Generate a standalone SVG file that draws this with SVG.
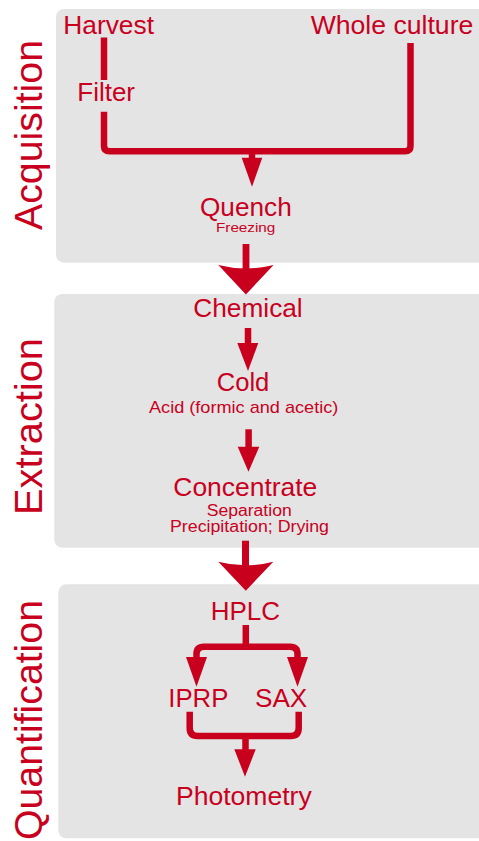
<svg xmlns="http://www.w3.org/2000/svg" width="479" height="841" viewBox="0 0 479 841">
<style>
.panel{fill:#e4e4e4}
.t{font-family:"Liberation Sans",Arial,Helvetica,sans-serif;fill:#c8001e}
.lbl{font-size:25px}
.sub{font-size:17px}
.sub2{font-size:16px}
.tiny{font-size:13.5px}
.side{font-size:39.5px}
.ln{fill:none;stroke:#c8001e;stroke-width:6.5}
.hd{fill:#c8001e}
</style>
<rect width="479" height="841" fill="#ffffff"/>
<g id="panel-acquisition">
<rect class="panel" x="56" y="9" width="440" height="253.7" rx="8"/>
<text class="t side" transform="translate(42,230) rotate(-90)" textLength="190" lengthAdjust="spacingAndGlyphs">Acquisition</text>
</g>
<g id="panel-extraction">
<rect class="panel" x="54.3" y="294" width="440" height="253.7" rx="8"/>
<text class="t side" transform="translate(42,515) rotate(-90)" textLength="177" lengthAdjust="spacingAndGlyphs">Extraction</text>
</g>
<g id="panel-quantification">
<rect class="panel" x="58.3" y="584.3" width="440" height="254" rx="8"/>
<text class="t side" transform="translate(42,840) rotate(-90)" textLength="240" lengthAdjust="spacingAndGlyphs">Quantification</text>
</g>
<g id="connectors">
<path class="ln" d="M104,37.5 V80"/>
<path class="ln" d="M104,111.7 V146 Q104,151.3 109.5,151.3 H405 Q410.5,151.3 410.5,146 V43"/>
<path class="ln" d="M252,151.3 V162" stroke-width="6"/>
<polygon class="hd" points="241.7,157.7 262.3,157.7 252,186.7"/>
<rect class="hd" x="242.6" y="244" width="6.8" height="25"/>
<path class="hd" d="M218.3,265 Q246,272 273.6,265 L245.9,294.5 Z"/>
<path class="ln" d="M248,328 V346" stroke-width="6"/>
<polygon class="hd" points="237.3,343 258.3,343 248,371"/>
<path class="ln" d="M248.6,429.3 V450" stroke-width="6"/>
<polygon class="hd" points="237.7,446.7 259.3,446.7 248.5,471.7"/>
<rect class="hd" x="242" y="540.7" width="7" height="26"/>
<path class="hd" d="M218.3,561.7 Q245.8,569 273.3,561.7 L245.8,590.7 Z"/>
<path class="ln" d="M245.8,625 V646.7" stroke-width="5.5"/>
<path class="ln" d="M196.5,661 V654 Q196.5,646.7 204,646.7 H290 Q297.5,646.7 297.5,654 V661"/>
<polygon class="hd" points="186,657 207,657 196.5,686.7"/>
<polygon class="hd" points="287,657 308,657 297.5,686.7"/>
<path class="ln" d="M189.7,711.7 V728 Q189.7,736 197.7,736 H290.7 Q298.7,736 298.7,728 V711.7"/>
<path class="ln" d="M245.5,736 V753" stroke-width="6"/>
<polygon class="hd" points="234.3,749.3 255.7,749.3 245,776.7"/>
</g>
<g id="node-harvest"><text class="t lbl" x="63.3" y="34.3" textLength="90.7" lengthAdjust="spacingAndGlyphs">Harvest</text></g>
<g id="node-whole-culture"><text class="t lbl" x="310.7" y="33.5" textLength="162.6" lengthAdjust="spacingAndGlyphs">Whole culture</text></g>
<g id="node-filter"><text class="t lbl" x="77.3" y="100.7" textLength="57.7" lengthAdjust="spacingAndGlyphs">Filter</text></g>
<g id="node-quench">
<text class="t lbl" x="200" y="216" textLength="91.7" lengthAdjust="spacingAndGlyphs">Quench</text>
<text class="t tiny" x="216" y="231.5" textLength="59.3" lengthAdjust="spacingAndGlyphs">Freezing</text>
</g>
<g id="node-chemical"><text class="t lbl" x="193.3" y="316.7" textLength="109.4" lengthAdjust="spacingAndGlyphs">Chemical</text></g>
<g id="node-cold">
<text class="t lbl" x="216.7" y="391" textLength="52.6" lengthAdjust="spacingAndGlyphs">Cold</text>
<text class="t sub" x="149" y="413.3" textLength="189.3" lengthAdjust="spacingAndGlyphs">Acid (formic and acetic)</text>
</g>
<g id="node-concentrate">
<text class="t lbl" x="173.3" y="496" textLength="144" lengthAdjust="spacingAndGlyphs">Concentrate</text>
<text class="t sub2" x="206.7" y="516.3" textLength="85" lengthAdjust="spacingAndGlyphs">Separation</text>
<text class="t sub2" x="170" y="532.3" textLength="159" lengthAdjust="spacingAndGlyphs">Precipitation; Drying</text>
</g>
<g id="node-hplc"><text class="t lbl" x="210.7" y="620" textLength="69.3" lengthAdjust="spacingAndGlyphs">HPLC</text></g>
<g id="node-iprp"><text class="t lbl" x="168.3" y="707.3" textLength="60" lengthAdjust="spacingAndGlyphs">IPRP</text></g>
<g id="node-sax"><text class="t lbl" x="255" y="707.3" textLength="52.3" lengthAdjust="spacingAndGlyphs">SAX</text></g>
<g id="node-photometry"><text class="t lbl" x="176" y="805" textLength="135.7" lengthAdjust="spacingAndGlyphs">Photometry</text></g>
</svg>
